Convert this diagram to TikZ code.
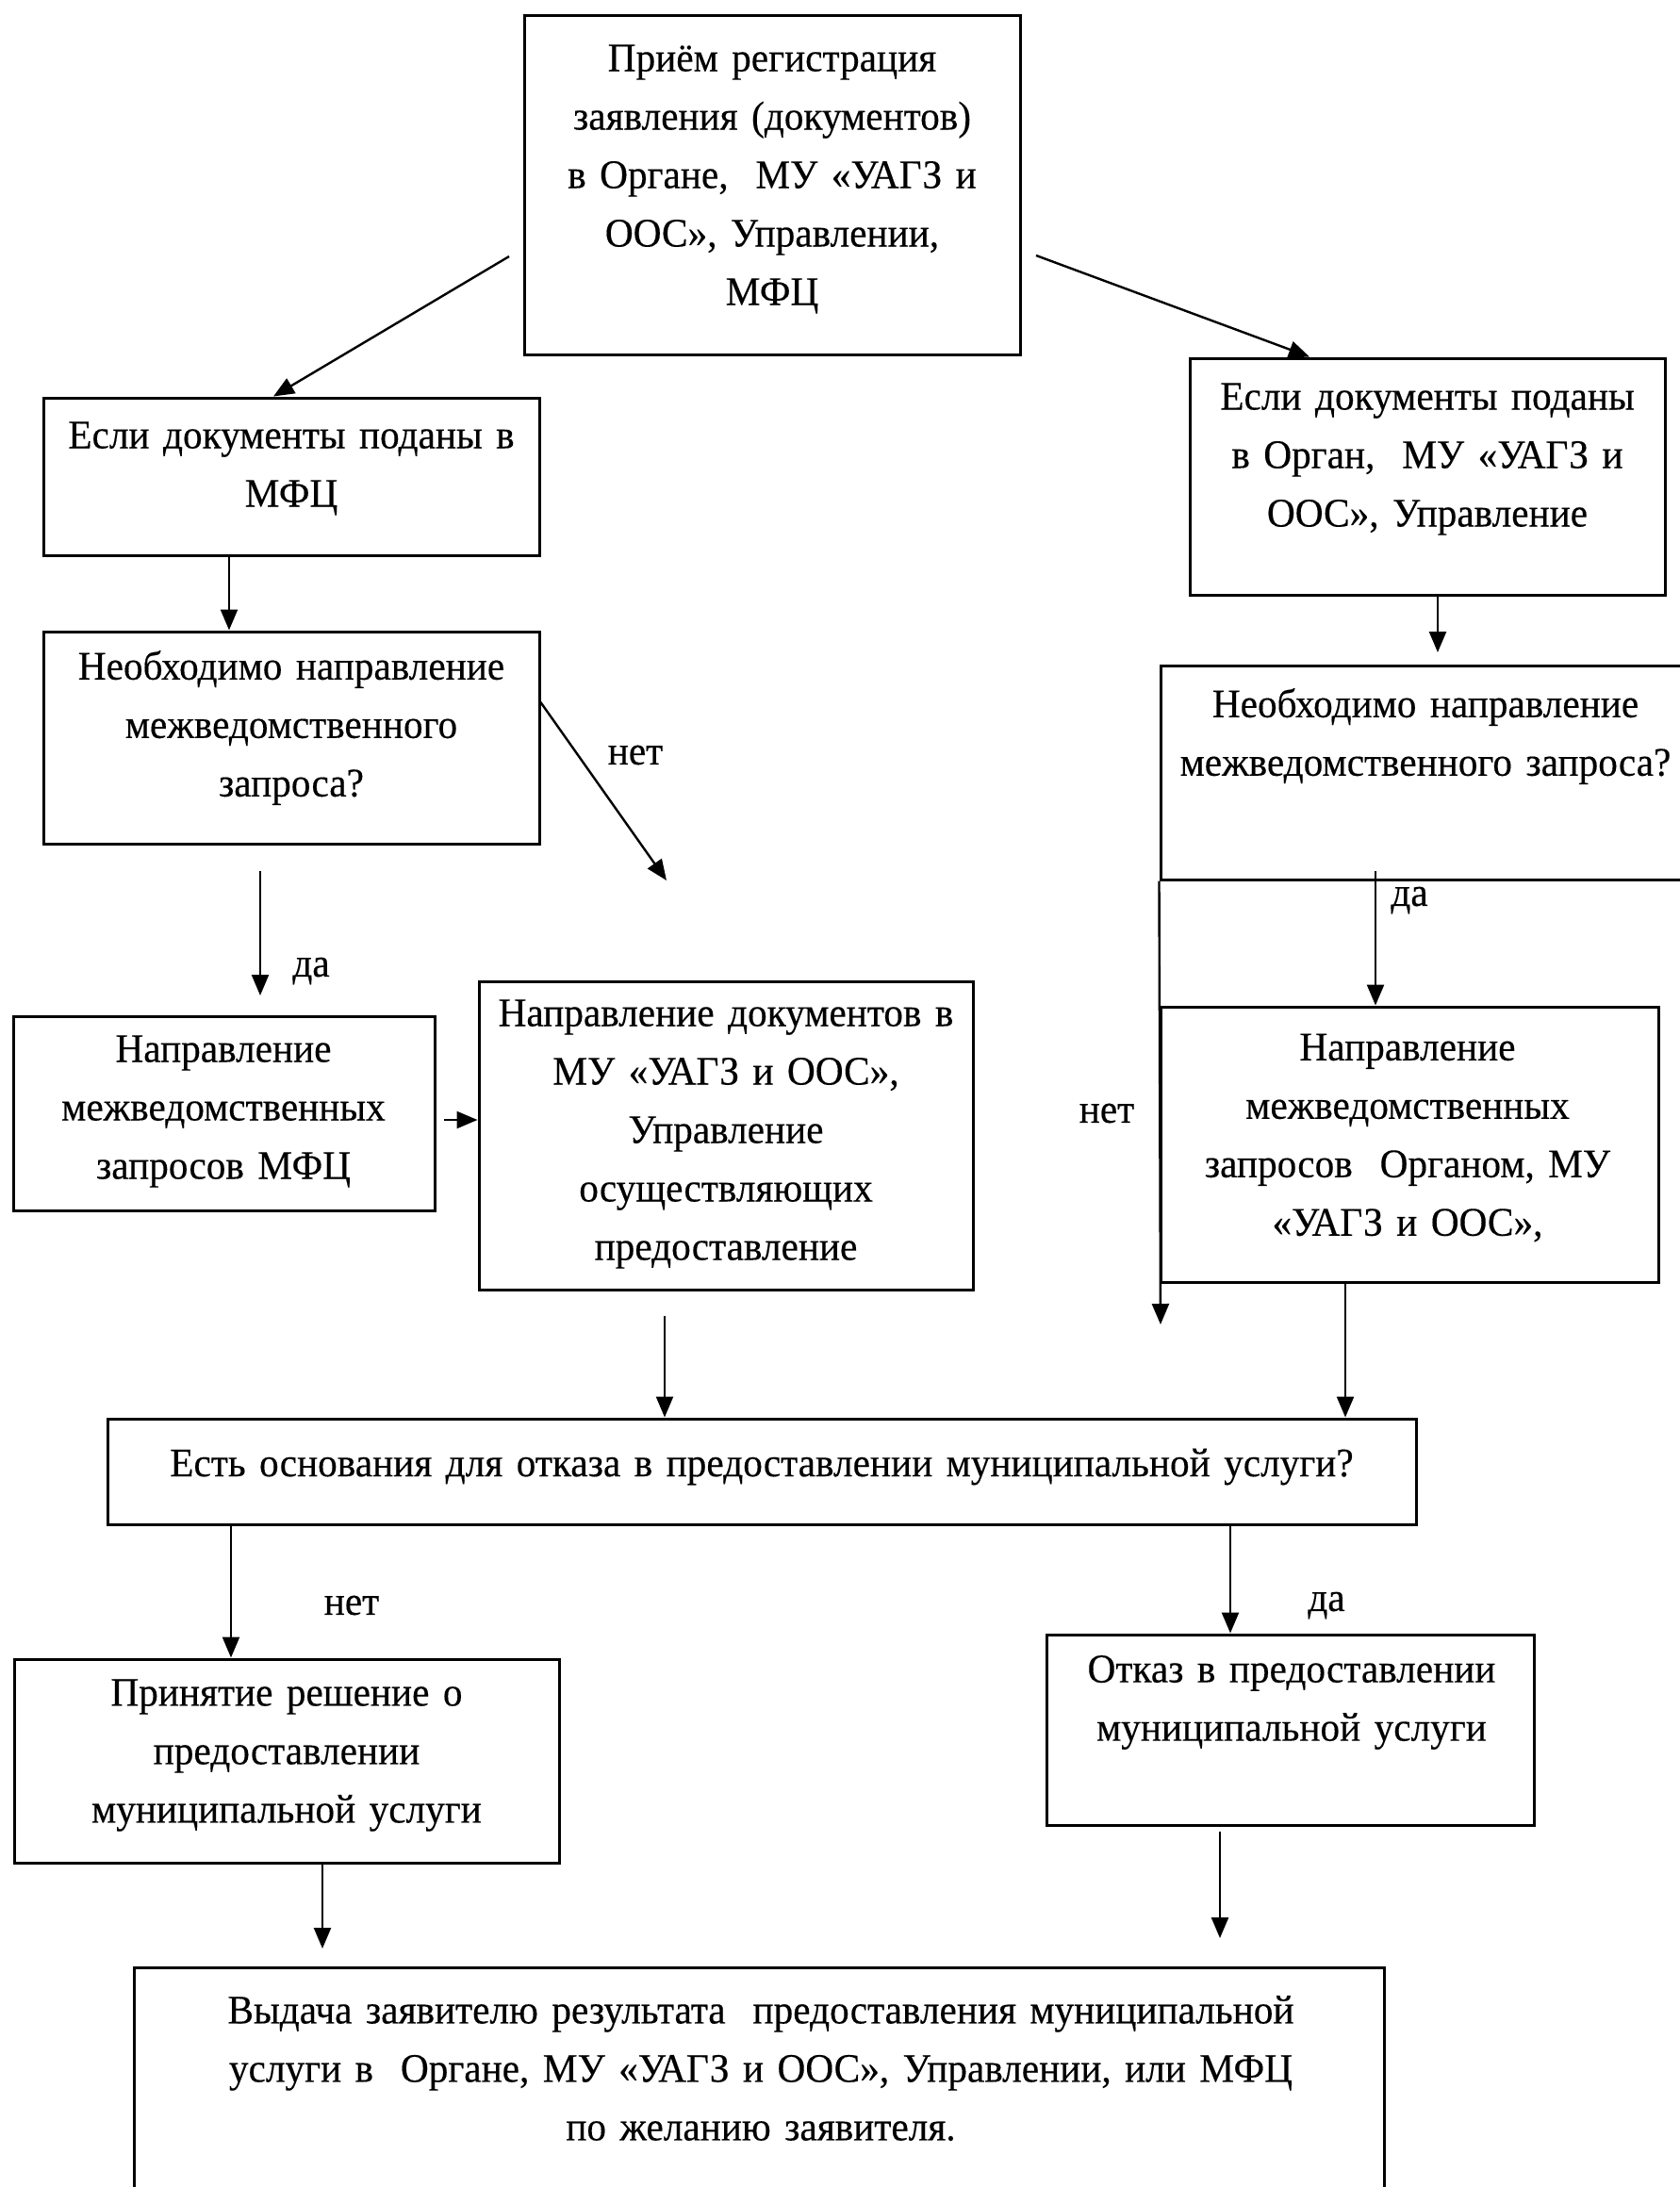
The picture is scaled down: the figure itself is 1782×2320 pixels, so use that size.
\documentclass[tikz,border=0pt]{standalone}
\usepackage{fontspec}
\setmainfont{Liberation Serif}[FakeStretch=0.96,WordSpace=1.4,FakeBold=0.3]
\usetikzlibrary{arrows.meta,fit}
\begin{document}
\begin{tikzpicture}[x=0.5pt,y=-0.5pt,
  box/.style={draw, line width=1.5pt, inner sep=0pt},
  txt/.style={align=center, inner sep=0pt, font=\fontsize{21.5}{31}\selectfont},
  lbl/.style={inner sep=0pt, font=\fontsize{21.5}{31}\selectfont},
  arr/.style={line width=1.2pt, -{Triangle[length=11pt,width=9pt]}}]
\useasboundingbox (0,0) rectangle (1782,2320);
\clip (0,0) rectangle (1782,2320);
\fill[white] (0,0) rectangle (1782,2320);
% boxes
\node[box, fit={(556,16) (1082,376)}] (A) {};
\node[txt] (At) at (819,190) {Приём регистрация\\заявления (документов)\\в Органе,\ \ МУ «УАГЗ и\\ООС», Управлении,\\МФЦ};
\node[box, fit={(46,422) (572,589)}] (L1) {};
\node[txt] (L1t) at (309,497) {Если документы поданы в\\МФЦ};
\node[box, fit={(1262,380) (1766,631)}] (R1) {};
\node[txt] (R1t) at (1514,487) {Если документы поданы\\в Орган,\ \ МУ «УАГЗ и\\ООС», Управление};
\node[box, fit={(46,670) (572,895)}] (L2) {};
\node[txt] (L2t) at (309,772) {Необходимо направление\\межведомственного\\запроса?};
\node[box, fit={(1231,706) (1800,933)}] (R2) {};
\node[txt] (R2t) at (1512,781) {Необходимо направление\\межведомственного запроса?};
\node[box, fit={(14,1078) (461,1284)}] (L3) {};
\node[txt] (L3t) at (237,1179) {Направление\\межведомственных\\запросов МФЦ};
\node[box, fit={(508,1041) (1032,1368)}] (M3) {};
\node[txt] (M3t) at (770,1203) {Направление документов в\\МУ «УАГЗ и ООС»,\\Управление\\осуществляющих\\предоставление};
\node[box, fit={(1231,1068) (1759,1360)}] (R3) {};
\node[txt] (R3t) at (1493,1207) {Направление\\межведомственных\\запросов\ \ Органом, МУ\\«УАГЗ и ООС»,};
\node[box, fit={(114,1505) (1502,1617)}] (E) {};
\node[txt] (Et) at (808,1556) {Есть основания для отказа в предоставлении муниципальной услуги?};
\node[box, fit={(15,1760) (593,1976)}] (P) {};
\node[txt] (Pt) at (304,1862) {Принятие решение о\\предоставлении\\муниципальной услуги};
\node[box, fit={(1110,1734) (1627,1936)}] (O) {};
\node[txt] (Ot) at (1370,1806) {Отказ в предоставлении\\муниципальной услуги};
\node[box, fit={(142,2087) (1468,2345)}] (B) {};
\node[txt] (Bt) at (807,2194) {Выдача заявителю результата\ \ предоставления муниципальной\\услуги в\ \ Органе, МУ «УАГЗ и ООС», Управлении, или МФЦ\\по желанию заявителя.};
% free ends
\coordinate (a1s) at (540,272);
\coordinate (a2s) at (1099,271);
\coordinate (a4e) at (1525,692);
\coordinate (a5e) at (707,934);
\coordinate (a6s) at (276,924);
\coordinate (a6e) at (276,1056);
\coordinate (a7s) at (471,1188);
\coordinate (a8s) at (1459,924);
\coordinate (a9e) at (1231,1405);
\coordinate (a10s) at (705,1396);
\coordinate (a14e) at (342,2067);
\coordinate (a15s) at (1294,1943);
\coordinate (a15e) at (1294,2056);
% connectors
\draw[arr] (a1s) -- (L1.north -| 290,0);
\draw[arr] (a2s) -- (R1.north -| 1389,0);
\draw[arr] (L1.south -| 243,0) -- (L2.north -| 243,0);
\draw[arr] (R1.south -| 1525,0) -- (a4e);
\draw[arr] (L2.east |- 0,745) -- (a5e);
\draw[arr] (a6s) -- (a6e);
\draw[arr] (a7s) -- (M3.west |- 0,1188);
\draw[arr] (a8s) -- (R3.north -| 1459,0);
\draw[arr] (R2.south west) -- (a9e);
\draw[arr] (a10s) -- (E.north -| 705,0);
\draw[arr] (R3.south -| 1427,0) -- (E.north -| 1427,0);
\draw[arr] (E.south -| 245,0) -- (P.north -| 245,1733);
\draw[arr] (E.south -| 1305,0) -- (O.north -| 1305,0);
\draw[arr] (P.south -| 342,0) -- (a14e);
\draw[arr] (a15s) -- (a15e);
% labels
\node[lbl] (n1) at (674,801) {нет};
\node[lbl] (d1) at (330,1030) {да};
\node[lbl] (d2) at (1495,955) {да};
\node[lbl] (n2) at (1174,1181) {нет};
\node[lbl] (n3) at (373,1703) {нет};
\node[lbl] (d3) at (1407,1703) {да};
\end{tikzpicture}
\end{document}
